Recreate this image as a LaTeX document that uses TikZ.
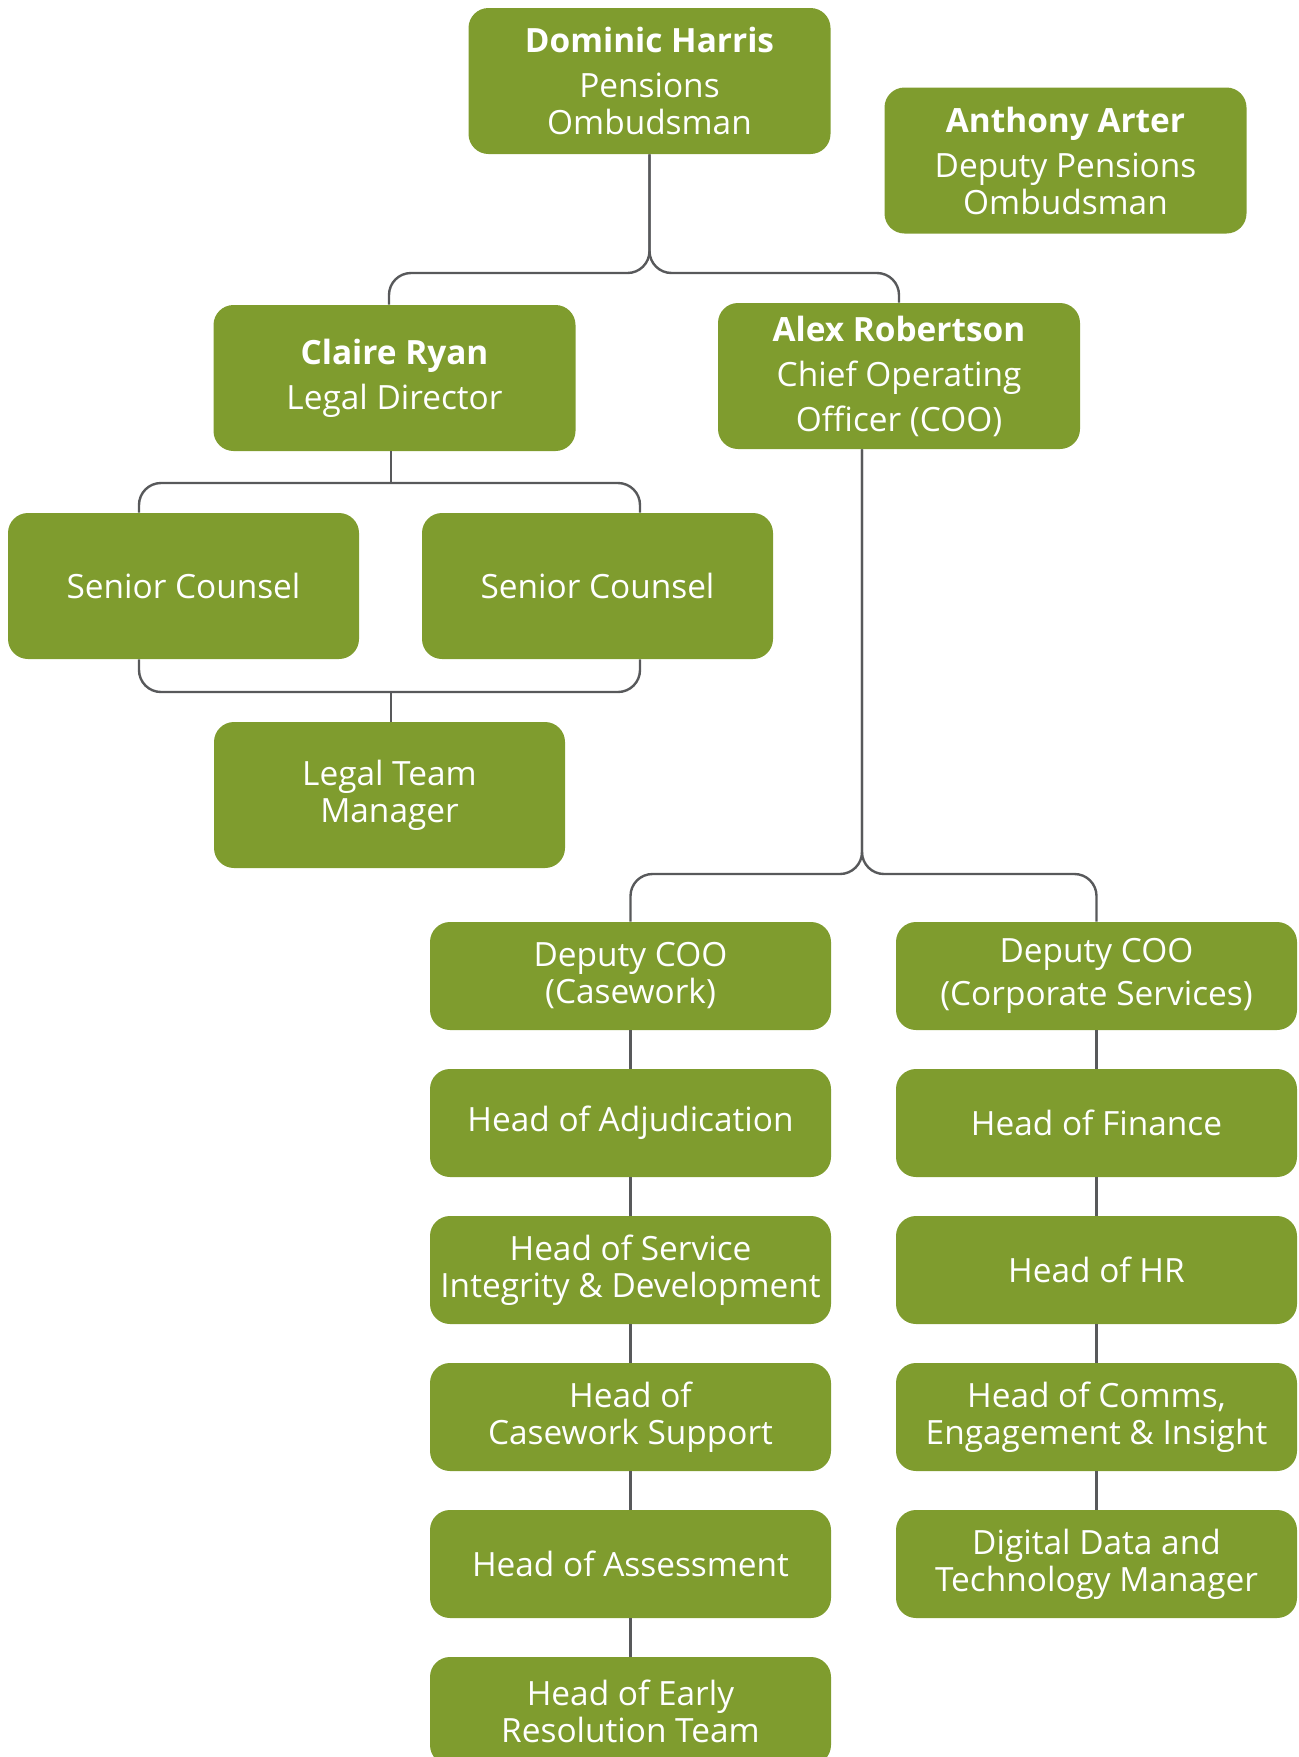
\documentclass[tikz,border=0pt]{standalone}
\usepackage{fontspec}
\setmainfont{Open Sans}
\usepackage{tikz}

\definecolor{pogreen}{HTML}{7F9C2E}
\definecolor{linkgray}{HTML}{58595B}

\tikzset{
  post/.style={fill=pogreen, text=white, rounded corners=10pt, align=center,
    inner sep=0pt, minimum width=181pt, minimum height=73pt,
    font=\fontsize{16.7}{18.5}\selectfont},
  lowpost/.style={post, minimum width=200.5pt, minimum height=54pt},
  link/.style={draw=linkgray, line width=1.2pt, rounded corners=11pt}
}

\begin{document}
\begin{tikzpicture}[x=0.5pt, y=-0.5pt]
    \useasboundingbox (0,0) rectangle (1298,1757);

    % top of the office
    \node[post] (dh) at (649.5,81) {\textbf{Dominic Harris}\\[4pt]Pensions\\Ombudsman};
    \node[post] (aa) at (1065.5,160.5) {\textbf{Anthony Arter}\\[4pt]Deputy Pensions\\Ombudsman};
    \node[post] (cr) at (394.5,378) {\textbf{Claire Ryan}\\[4pt]Legal Director};
    \node[post] (ar) at (899,376) {\textbf{Alex Robertson}\\[4pt]Chief Operating\\[4pt]Officer (COO)};

    % legal side
    \node[post, minimum width=175.5pt] (sc1) at (183.5,586) {Senior Counsel};
    \node[post, minimum width=175.5pt] (sc2) at (597.5,586) {Senior Counsel};
    \node[post, minimum width=175.5pt] (ltm) at (389.5,795) {Legal Team\\Manager};

    % casework column
    \node[lowpost] (dcw) at (630.5,976) {Deputy COO\\(Casework)};
    \node[lowpost] (hadj) at (630.5,1123) {Head of Adjudication};
    \node[lowpost] (hsid) at (630.5,1270) {Head of Service\\Integrity \& Development};
    \node[lowpost] (hcs) at (630.5,1417) {Head of\\Casework Support};
    \node[lowpost] (hass) at (630.5,1564) {Head of Assessment};
    \node[lowpost] (hert) at (630.5,1711) {Head of Early\\Resolution Team};

    % corporate column
    \node[lowpost] (dcc) at (1096.5,976) {Deputy COO\\[3pt](Corporate Services)};
    \node[lowpost] (hfin) at (1096.5,1123) {Head of Finance};
    \node[lowpost] (hhr) at (1096.5,1270) {Head of HR};
    \node[lowpost] (hcei) at (1096.5,1417) {Head of Comms,\\Engagement \& Insight};
    \node[lowpost] (ddt) at (1096.5,1564) {Digital Data and\\Technology Manager};

    \coordinate (top split) at (649.5,273);
    \coordinate (cr split) at (391,483);
    \coordinate (ltm split) at (391,692);
    \coordinate (left leg) at (139,0);
    \coordinate (right leg) at (640,0);
    \coordinate (cr leg) at (389,0);
    \coordinate (coo split) at (862,874);

    \draw[link] (dh.south) |- (cr leg |- top split) -- (cr leg |- cr.north);
    \draw[link] (dh.south) |- (ar.north |- top split) -- (ar.north);

    \draw[link] (left leg |- sc1.north) |- (cr split) -| (right leg |- sc2.north);
    \draw[link] (cr.south -| cr split) -- (cr split);
    \draw[link] (left leg |- sc1.south) |- (ltm split) -| (right leg |- sc2.south);
    \draw[link] (ltm split) -- (ltm.north -| ltm split);

    \draw[link] (ar.south -| coo split) |- (dcw.north |- coo split) -- (dcw.north);
    \draw[link] (ar.south -| coo split) |- (dcc.north |- coo split) -- (dcc.north);

    \foreach \a/\b in {dcw/hadj, hadj/hsid, hsid/hcs, hcs/hass, hass/hert,
                       dcc/hfin, hfin/hhr, hhr/hcei, hcei/ddt}
        \draw[link] (\a.south) -- (\b.north);

\end{tikzpicture}
\end{document}
